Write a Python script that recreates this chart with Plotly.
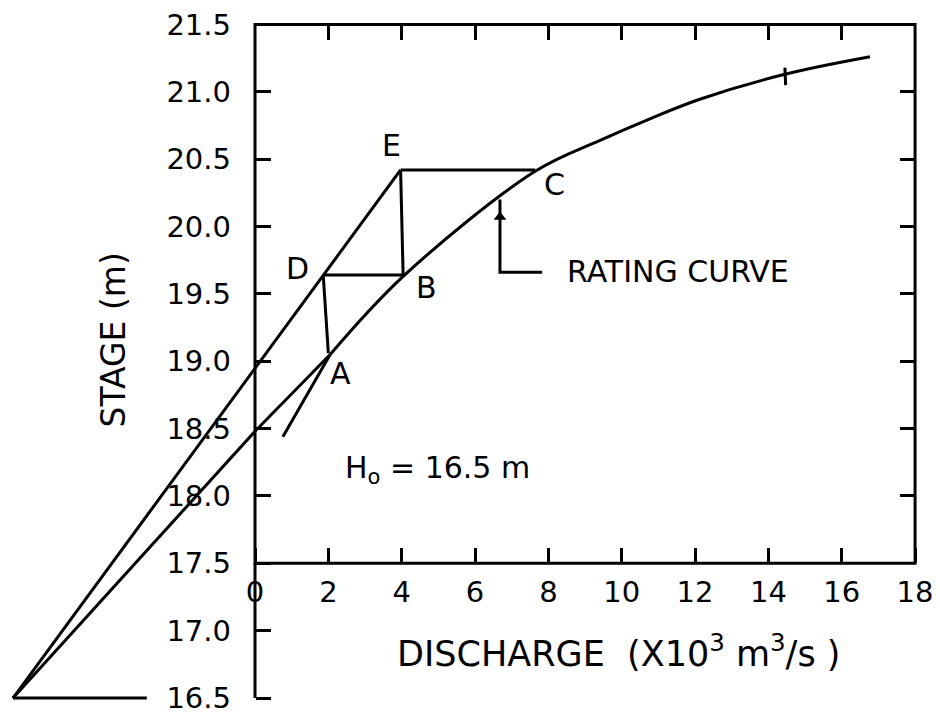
import plotly.graph_objects as go

# ---- tick values / labels ----
x_ticks = [0, 2, 4, 6, 8, 10, 12, 14, 16, 18]
x_tick_labels = ["0", "2", "4", "6", "8", "10", "12", "14", "16", "18"]
y_ticks = [16.5, 17.0, 17.5, 18.0, 18.5, 19.0, 19.5, 20.0, 20.5, 21.0, 21.5]
y_tick_labels = ["16.5", "17.0", "17.5", "18.0", "18.5", "19.0", "19.5", "20.0", "20.5", "21.0", "21.5"]
top_ticks = [2, 4, 6, 8, 10, 12, 14, 16]
right_ticks = [18.0, 18.5, 19.0, 19.5, 20.0, 20.5, 21.0]

# ---- data (discharge x10^3 m3/s, stage m) ----
rating_q = [-6.6, 0.0, 2.05, 4.04, 7.64, 9.41, 10.77, 12.13, 14.45, 16.77]
rating_h = [16.5, 18.48, 19.05, 19.63, 20.41, 20.64, 20.80, 20.945, 21.13, 21.26]
tail_q = [0.76, 1.5, 2.05]
tail_h = [18.44, 18.79, 19.05]
loop_q = [-6.6, 1.86, 3.97]
loop_h = [16.5, 19.64, 20.42]
h0_q = [-6.6, -2.95]
h0_h = [16.5, 16.5]
# step construction D-A, D-B, E-B, E-C
da_q, da_h = [1.86, 2.0], [19.64, 19.06]
db_q, db_h = [1.86, 4.04], [19.64, 19.64]
eb_q, eb_h = [3.97, 4.04], [20.42, 19.63]
ec_q, ec_h = [3.97, 7.64], [20.42, 20.42]
pointer_q = [6.68, 6.68, 7.83]
pointer_h = [20.20, 19.66, 19.66]
arrow_q = [6.68]
arrow_h = [20.07]
mark_q = [14.45, 14.47]
mark_h = [21.18, 21.05]

point_names = ["A", "B", "C", "D", "E"]
point_q = [2.32, 4.69, 8.18, 1.17, 3.73]
point_h = [18.91, 19.55, 20.31, 19.69, 20.60]

# page has an 8px body margin, ranges compensate so marks land where the scan shows them
X_RANGE = [-6.736, 18.898]
Y_RANGE = [16.337, 21.600]
FONT = "DejaVu Sans"
LW = 3


def px(q):
    return (q - X_RANGE[0]) / (X_RANGE[1] - X_RANGE[0])


def py(h):
    return (h - Y_RANGE[0]) / (Y_RANGE[1] - Y_RANGE[0])


fig = go.Figure()
i_a = rating_q.index(2.05)
segments = [
    (rating_q[:i_a + 1], rating_h[:i_a + 1], "linear"),
    (rating_q[i_a:], rating_h[i_a:], "spline"),
    (tail_q, tail_h, "spline"),
    (loop_q, loop_h, "linear"),
    (h0_q, h0_h, "linear"),
    (da_q, da_h, "linear"),
    (db_q, db_h, "linear"),
    (eb_q, eb_h, "linear"),
    (ec_q, ec_h, "linear"),
    (pointer_q, pointer_h, "linear"),
    (mark_q, mark_h, "linear"),
]
for q, h, shp in segments:
    fig.add_trace(go.Scatter(x=q, y=h, mode="lines",
                             line=dict(color="black", width=LW, shape=shp, smoothing=1.0),
                             showlegend=False, hoverinfo="skip"))

fig.add_trace(go.Scatter(x=arrow_q, y=arrow_h, mode="markers",
                         marker=dict(symbol="triangle-up", size=11, color="black"),
                         showlegend=False, hoverinfo="skip"))

# dummy trace for the mirrored tick axes
fig.add_trace(go.Scatter(x=[None], y=[None], xaxis="x2", yaxis="y2",
                         showlegend=False, hoverinfo="skip"))

# box and y-axis extension
fig.add_shape(type="rect", x0=0, x1=18, y0=17.5, y1=21.5, xref="x", yref="y",
              line=dict(color="black", width=LW))
fig.add_shape(type="line", x0=0, x1=0, y0=16.5, y1=17.5, xref="x", yref="y",
              line=dict(color="black", width=LW))

for name, q, h in zip(point_names, point_q, point_h):
    fig.add_annotation(x=q, y=h, text=name, showarrow=False,
                       font=dict(family=FONT, size=30, color="black"))

fig.add_annotation(x=(565 - 255) / 36.67, y=19.67, text="RATING CURVE", showarrow=False,
                   xanchor="left", font=dict(family=FONT, size=30, color="black"))
fig.add_annotation(x=2.4, y=18.2, text="H<sub>o</sub> = 16.5 m", showarrow=False,
                   xanchor="left", font=dict(family=FONT, size=30, color="black"))
fig.add_annotation(x=9.9, y=16.85, text="DISCHARGE  (X10<sup>3</sup> m<sup>3</sup>/s )",
                   showarrow=False, font=dict(family=FONT, size=35, color="black"))
fig.add_annotation(x=-3.85, y=19.16, text="STAGE (m)", textangle=-90, showarrow=False,
                   font=dict(family=FONT, size=33, color="black"))

tick_font = dict(family=FONT, size=29, color="black")
fig.update_layout(
    width=940, height=712,
    margin=dict(l=0, r=0, t=0, b=0),
    paper_bgcolor="white", plot_bgcolor="white",
    xaxis=dict(range=X_RANGE, anchor="free", position=py(17.5),
               tickvals=x_ticks, ticktext=x_tick_labels, ticks="inside",
               ticklen=15, tickwidth=LW, tickcolor="black", tickfont=tick_font,
               ticklabelstandoff=9, ticklabeloverflow="allow",
               showline=False, showgrid=False, zeroline=False, fixedrange=True),
    yaxis=dict(range=Y_RANGE, anchor="free", position=px(0),
               tickvals=y_ticks, ticktext=y_tick_labels, ticks="inside",
               ticklen=15, tickwidth=LW, tickcolor="black", tickfont=tick_font,
               ticklabelstandoff=24, ticklabeloverflow="allow",
               showline=False, showgrid=False, zeroline=False, fixedrange=True),
    xaxis2=dict(range=X_RANGE, overlaying="x", anchor="free", position=py(21.5),
                side="top", tickvals=top_ticks, ticks="inside", ticklen=15,
                tickwidth=LW, tickcolor="black", showticklabels=False,
                showline=False, showgrid=False, zeroline=False),
    yaxis2=dict(range=Y_RANGE, overlaying="y", anchor="free", position=px(18),
                side="right", tickvals=right_ticks, ticks="inside", ticklen=15,
                tickwidth=LW, tickcolor="black", showticklabels=False,
                showline=False, showgrid=False, zeroline=False),
)

fig.write_html("out.html")
